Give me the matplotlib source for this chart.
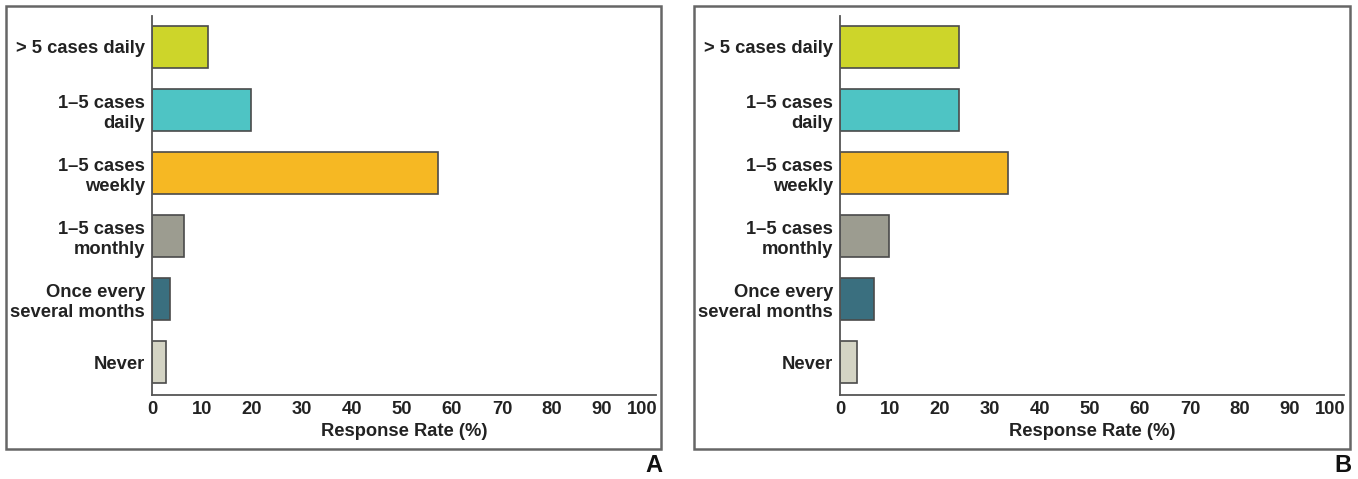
import matplotlib
matplotlib.use("Agg")
import matplotlib.pyplot as plt
from matplotlib.patches import Rectangle
from matplotlib.transforms import ScaledTranslation

categories = ["> 5 cases daily", "1\u20135 cases\ndaily", "1\u20135 cases\nweekly",
              "1\u20135 cases\nmonthly", "Once every\nseveral months", "Never"]
values_a = [11.2, 19.8, 57.2, 6.4, 3.6, 2.8]
values_b = [23.8, 23.8, 33.6, 9.8, 6.8, 3.4]
colors = ["#CDD52A", "#4EC4C4", "#F6B823", "#9C9C90", "#3A6F7F", "#D4D4C4"]
xticks = [0, 10, 20, 30, 40, 50, 60, 70, 80, 90, 100]
xlabel = "Response Rate (%)"
panel_letters = ["A", "B"]

plt.rcParams['font.family'] = ['Liberation Sans', 'DejaVu Sans']
plt.rcParams['font.weight'] = 'bold'

W, H = 1358, 479
fig = plt.figure(figsize=(W / 100, H / 100), dpi=100)

axes_px = [(152, 656), (840, 1344)]
boxes_px = [(6, 661), (694, 1350)]
top_px, bottom_px = 16, 395
txt = "#222222"
spine_c = "#555555"
fs = 13.2

for i, (vals, (l, r), (bl, br), letter) in enumerate(zip([values_a, values_b], axes_px, boxes_px, panel_letters)):
    ax = fig.add_axes([l / W, 1 - bottom_px / H, (r - l) / W, (bottom_px - top_px) / H])
    y = list(range(len(categories)))
    ax.barh(y, vals, height=0.667, color=colors, edgecolor="#4a4a4a", linewidth=1.2)
    ax.set_ylim(len(categories) - 0.48, -0.49)
    ax.set_xlim(0, 100.8)
    ax.set_yticks(y)
    ax.set_yticklabels(categories, fontsize=fs, fontweight='bold', color=txt, linespacing=1.2)
    ax.set_xticks(xticks)
    ax.set_xticklabels([str(t) for t in xticks], fontsize=fs, fontweight='bold', color=txt)
    ax.tick_params(axis='y', length=0, pad=5)
    ax.tick_params(axis='x', length=0, pad=4)
    lbls = ax.get_xticklabels()
    lbls[-1].set_horizontalalignment('right')
    lbls[-1].set_transform(lbls[-1].get_transform() + ScaledTranslation(5 / 100, 0, fig.dpi_scale_trans))
    ax.set_xlabel(xlabel, fontsize=fs, fontweight='bold', color=txt, labelpad=4)
    for s in ['top', 'right']:
        ax.spines[s].set_visible(False)
    for s in ['left', 'bottom']:
        ax.spines[s].set_color(spine_c)
        ax.spines[s].set_linewidth(1.3)
    ax.set_facecolor('none')

    rect = Rectangle((bl / W, 1 - 449 / H), (br - bl) / W, (449 - 6) / H,
                     transform=fig.transFigure, fill=False, edgecolor="#666666", linewidth=1.8)
    fig.add_artist(rect)
    fig.text((br + 1) / W, 1 - 465 / H, letter, fontsize=17, fontweight='bold',
             ha='right', va='center', color="#111111")

fig.savefig("out.png", dpi=100, facecolor="white")
